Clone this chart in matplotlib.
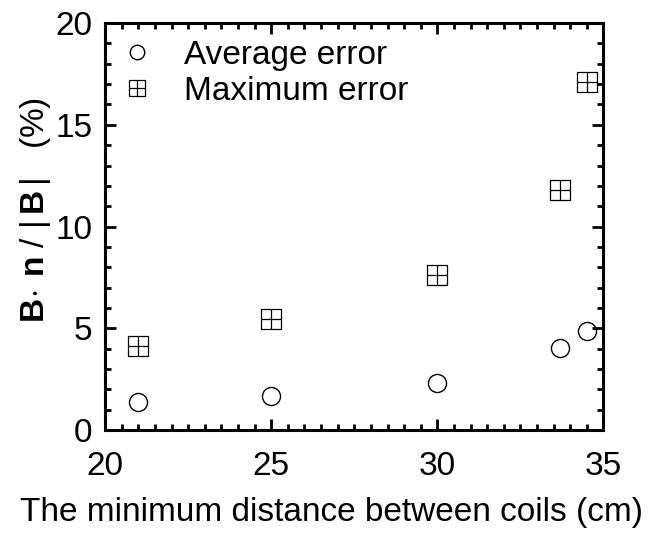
import matplotlib
matplotlib.use("Agg")
import matplotlib.pyplot as plt
from matplotlib.path import Path
from matplotlib.ticker import MultipleLocator

plt.rcParams['font.family'] = ['Liberation Sans', 'DejaVu Sans']
plt.rcParams['mathtext.fontset'] = 'custom'
plt.rcParams['mathtext.rm'] = 'Liberation Sans'
plt.rcParams['mathtext.bf'] = 'Liberation Sans:bold'

# data
avg_x = [21.0, 25.0, 30.0, 33.7, 34.5]
avg_err = [1.4, 1.7, 2.3, 4.05, 4.85]
max_x = [21.0, 25.0, 30.0, 33.7, 34.5]
max_err = [4.15, 5.45, 7.6, 11.8, 17.1]

x_ticks = [20, 25, 30, 35]
y_ticks = [0, 5, 10, 15, 20]

FS = 24

# square with a cross inside
box_plus = Path(
    [(-1, -1), (1, -1), (1, 1), (-1, 1), (-1, -1),
     (0, -1), (0, 1), (-1, 0), (1, 0)],
    [Path.MOVETO, Path.LINETO, Path.LINETO, Path.LINETO, Path.CLOSEPOLY,
     Path.MOVETO, Path.LINETO, Path.MOVETO, Path.LINETO])

fig = plt.figure(figsize=(6.66, 5.35), dpi=100)
ax = fig.add_axes([0.158, 0.196, 0.748, 0.761])

ax.plot(avg_x, avg_err, linestyle='none', marker='o', markersize=13,
        markerfacecolor='none', markeredgecolor='black', markeredgewidth=1.0,
        label='Average error')
ax.plot(max_x, max_err, linestyle='none', marker=box_plus, markersize=14,
        markerfacecolor='none', markeredgecolor='black', markeredgewidth=0.9,
        label='Maximum error')

ax.set_xlim(20, 35)
ax.set_ylim(0, 20)
ax.set_xticks(x_ticks)
ax.set_yticks(y_ticks)
ax.xaxis.set_minor_locator(MultipleLocator(0.5))
ax.yaxis.set_minor_locator(MultipleLocator(1))
ax.tick_params(which='both', direction='in', top=True, right=True,
               width=2, labelsize=FS)
ax.tick_params(which='major', length=8)
ax.tick_params(which='minor', length=4.5)
ax.tick_params(axis='x', pad=15)
ax.tick_params(axis='y', pad=9)
for s in ax.spines.values():
    s.set_linewidth(2.2)

ax.set_xlabel('The minimum distance between coils (cm)', fontsize=FS)
ax.xaxis.set_label_coords(0.455, -0.163)
ax.set_ylabel(r'$\mathbf{B}\!\cdot\,\mathbf{n}\;/\;|\,\mathbf{B}\,|$   (%)',
              fontsize=FS)
ax.yaxis.set_label_coords(-0.105, 0.54)

ax.legend(loc='upper left', bbox_to_anchor=(-0.01, 1.0), frameon=False,
          fontsize=FS, handletextpad=0.8, borderaxespad=0.1,
          labelspacing=0.15, handlelength=1.2, markerscale=0.8)

fig.savefig('out.png', dpi=100)
